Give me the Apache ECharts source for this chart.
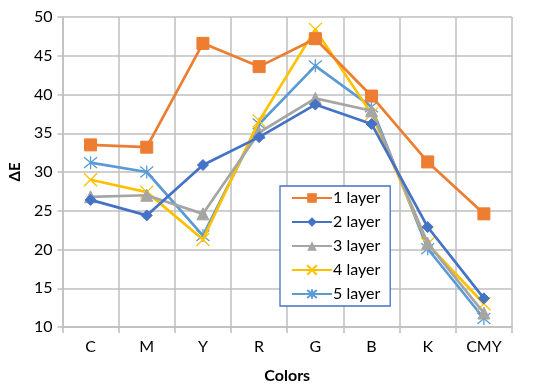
<!DOCTYPE html>
<html><head><meta charset="utf-8">
<script src="https://cdn.jsdelivr.net/npm/echarts@6/dist/echarts.min.js"></script>
<style>html,body{margin:0;padding:0;background:#fff}#c{width:550px;height:390px}</style>
</head><body><div id="c"></div>
<script>
const categories = ['C','M','Y','R','G','B','K','CMY'];
const layer1 = [33.5, 33.2, 46.6, 43.6, 47.2, 39.8, 31.3, 24.6];
const layer2 = [26.4, 24.4, 30.9, 34.5, 38.7, 36.2, 22.9, 13.7];
const layer3 = [26.8, 27.0, 24.6, 35.1, 39.5, 37.9, 20.8, 11.8];
const layer4 = [29.0, 27.4, 21.3, 36.6, 48.4, 37.5, 20.7, 13.0];
const layer5 = [31.2, 30.0, 21.8, 36.2, 43.7, 38.4, 20.1, 11.1];
const seriesNames = ['1 layer','2 layer','3 layer','4 layer','5 layer'];
const yTicks = {min: 10, max: 50, interval: 5};

const font = 'Lato, "Liberation Sans", sans-serif';
const colors = ['#ED7D31','#4472C4','#A5A5A5','#FFC000','#5B9BD5'];
const xPath = 'path://M0,0L10,10M10,0L0,10';
const starPath = 'path://M0,0L10,10M10,0L0,10M5,-1L5,11';
const symbols = [
  {symbol:'rect', size:12, style:{}},
  {symbol:'diamond', size:11, style:{}},
  {symbol:'triangle', size:12, style:{}},
  {symbol:xPath, size:13, style:{color:'none', borderWidth:1.3}},
  {symbol:starPath, size:13, style:{color:'none', borderWidth:1.3}}
];
const data = [layer1, layer2, layer3, layer4, layer5];

const chart = echarts.init(document.getElementById('c'), null, {renderer:'canvas'});
chart.setOption({
  animation:false,
  color: colors,
  textStyle:{fontFamily:font},
  grid:{left:52, right:38, top:17, bottom:63},
  legend:{
    orient:'vertical', left:280, top:186,
    backgroundColor:'#fff', borderColor:'#4472C4', borderWidth:1.3,
    padding:[4,10,4,11], itemGap:8, itemWidth:40, itemHeight:12,
    textStyle:{fontSize:16, color:'#000', fontFamily:font, padding:[0,0,0,-4]},
    data: seriesNames
  },
  xAxis:{
    type:'category', data:categories, boundaryGap:true,
    name:'Colors', nameLocation:'middle', nameGap:41,
    nameTextStyle:{fontSize:16, fontWeight:'bold', color:'#000'},
    axisLine:{lineStyle:{color:'#bfbfbf', width:1.5}},
    axisTick:{show:true, length:6, lineStyle:{color:'#bfbfbf', width:1.5}},
    axisLabel:{fontSize:16, color:'#000', margin:12},
    splitLine:{show:true, lineStyle:{color:'#bfbfbf', width:1.5}}
  },
  yAxis:{
    type:'value', min:yTicks.min, max:yTicks.max, interval:yTicks.interval,
    name:'ΔE', nameLocation:'middle', nameGap:38, nameRotate:90,
    nameTextStyle:{fontSize:15, fontWeight:'bold', color:'#000'},
    axisLine:{show:true, lineStyle:{color:'#bfbfbf', width:1.5}},
    axisTick:{show:true, length:5, lineStyle:{color:'#bfbfbf', width:1.5}},
    axisLabel:{fontSize:16, color:'#000', margin:10},
    splitLine:{show:true, lineStyle:{color:'#bfbfbf', width:1.5}}
  },
  series: seriesNames.map((n,i)=>({
    name:n, type:'line', data:data[i],
    symbol:symbols[i].symbol, symbolSize:symbols[i].size,
    showAllSymbol:true,
    lineStyle:{width:2.7, color:colors[i]},
    itemStyle:Object.assign({color:colors[i], borderColor:colors[i]}, symbols[i].style),
    z: 10 - i
  }))
});
</script></body></html>
